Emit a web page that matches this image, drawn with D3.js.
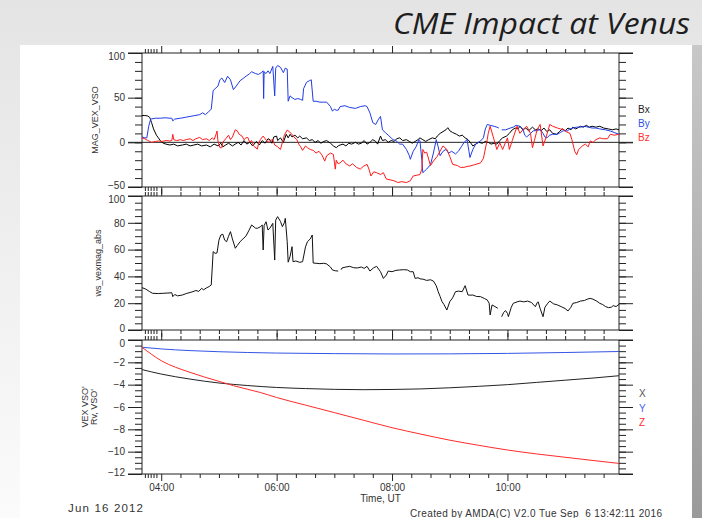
<!DOCTYPE html>
<html><head><meta charset="utf-8">
<script src="https://cdn.jsdelivr.net/npm/d3@7"></script>
<style>body{margin:0;background:#fff}svg{display:block}</style>
</head><body>
<svg id="c" width="702" height="518"></svg>
<script>
// ---------- DATA (time in minutes of day UT, Jun 16 2012) ----------
const timeDomain = [220, 716];            // 03:40 .. 11:56
const timeMajorTicks = [240, 360, 480, 600];
const timeMinorTicks = [260,280,300,320,340,380,400,420,440,460,500,520,540,560,580,620,640,660,680,700];
const timeSmallTicks = [223,226,229,232,235];
const timeTitle = "Time, UT";

const bLegend = ["Bx", "By", "Bz"];
const posLegend = ["X", "Y", "Z"];

const Bx = [[220,30],[223,30],[226,29.5],[228,28],[230,22],[232,15],[235,8],[237,5],[239,2],[242,-1],[245,-2],[249,-3],[253,-2],[257,-4],[262,-3],[266,-2],[270,-4],[274,-3],[278,-2],[282,-4],[287,-3],[291,-5],[295,-2],[299,-4],[302,-1],[304,-5],[307,-3],[310,-1],[314,-4],[317,-2],[320,0],[323,-3],[326,2],[329,-2],[332,0],[335,-4],[339,1],[342,-3],[345,2],[348,-1],[351,4],[353,3],[355,-1],[357,6],[360,7],[361,2],[364,5],[367,0],[370,9],[372,5],[374,9],[376,6],[379,8],[382,5],[384,7],[387,4],[391,5],[394,2],[397,3],[400,0],[403,2],[406,-1],[409,1],[412,2],[416,-1],[419,-4],[422,-6],[424,-4],[426,-3],[429,-2],[432,-4],[435,-1],[438,-2],[442,0],[445,-2],[448,-1],[451,2],[454,-2],[457,0],[460,3],[463,1],[465,-2],[468,7],[470,2],[473,3],[476,0],[479,2],[482,1],[485,4],[488,5],[491,2],[495,3],[498,1],[501,-1],[504,1],[507,3],[509,5],[512,3],[515,1],[518,3],[522,5],[525,4],[527,7],[530,10],[533,12],[536,14],[538,16.4],[540,13],[543,11],[547,9],[550,7],[553,8],[556,5],[559,3],[562,-1],[564,-4],[567,-2],[570,0],[574,-1],[577,1],[580,0],[583,-2],[586,-1],[589,-2],[592,2],[595,5],[599,7],[602,10],[605,14],[608,16],[611,15],[613,18],[616,14],[619,16],[622,13],[626,17],[629,14],[632,15],[635,13],[638,16],[641,12],[644,14],[647,10],[651,9],[654,12],[657,15],[660,13],[663,16],[666,14],[668,17],[671,15],[676,18],[679,17],[682,19],[685,17],[688,18],[692,17],[696,18],[700,16],[705,15],[709,14],[713,15],[716,14]];

const By = [[220,6],[223,5],[225,5],[227,18],[229,26],[234,27],[239,27],[244,27.5],[249,27],[251,27],[252,24],[254,26],[260,27],[265,28],[270,29],[275,30],[280,31],[283,33],[286,31],[289,34],[292,37],[294,58],[296,60],[299,63],[301,70],[303,72],[306,67],[309,74],[312,70],[315,59],[318,63],[322,69],[327,73],[332,77],[334,79],[338,77],[341,76],[344,78],[346,80],[346.5,49],[347,79],[349,77],[351,80],[353,77],[356,85],[358,52],[359,83],[361,86],[364,84],[367,78],[369,83],[371,82],[372,46],[374,52],[376,50],[379,48],[382,49],[385,48],[387,47],[388,60],[391,67],[394,69],[396,70],[398,46],[401,46],[405,45],[409,45],[412,45],[416,40],[418,35],[420,37],[422,36],[424,36],[426,40],[431,41],[436,39],[442,38],[447,40],[452,41],[454,40],[457,33],[460,22],[463,20],[466,26],[468,29],[470,14],[473,11],[476,8],[479,5],[481,3],[484,2],[488,-2],[491,-2],[495,-8],[498,-15],[499,-19],[502,-10],[505,-5],[508,3],[509,2],[511,-20],[512,-34],[514,-32],[516,-30],[520,-25],[523,-12],[526,3],[528,-5],[530,-15],[533,-10],[536,-8],[539,-12],[542,-10],[546,-13],[549,-10],[552,-5],[555,0],[558,3],[560,-10],[561,-17],[564,-8],[567,-2],[572,1.5],[575,5],[577,15],[579,20],[582,19],[586,18],[589,17],[591,16],[592,null],[594,14],[598,14],[603,16],[606,17],[609,19],[613,18],[616,15],[618,8],[620,6],[624,10],[627,13],[631,13],[634,14.6],[637,10],[639,6],[641,5],[644,8],[647,9],[652,9],[655,11],[658,13],[662,12.6],[665,15],[668,16],[672,17],[676,17],[680,18],[684,17],[688,16],[692,16],[696,15],[702,14],[707,12.6],[711,11],[716,9]];

const Bz = [[220,5],[223,4],[226,2],[228,1],[230,0],[234,1],[237,1.5],[241,1],[245,2],[249,1.5],[251,2],[252,9],[253,3],[256,2],[260,3],[263,2],[266,3],[270,4],[273,2],[276,4],[280,5.5],[283,3],[287,4],[290,2],[293,5],[295,3],[297,9],[298,12.6],[299,1.5],[301,-6],[303,-6],[304,0],[307,4],[310,8],[312,3],[314,6],[317,14],[319,13],[321,9],[324,7],[326,3],[328,5],[330,5.5],[332,0],[334,2],[336,-4],[340,-7.6],[341,-2],[343,3],[346,7],[348,4],[351,0],[353,2],[356,3],[358,-3],[361,-5],[364,-8],[366,0],[368,8],[371,13.8],[373,12],[376,9],[378,6],[381,3],[383,-2],[385,-5],[387,-9],[390,-4],[392,-6],[395,-8],[398,-9],[401,-12],[404,-10],[407,-14],[410,-21],[412,-15],[416,-12],[419,-13.6],[421,-30],[422,-20],[424,-24],[426,-23],[429,-20],[432,-24],[436,-26.5],[439,-24],[443,-28],[447,-30],[450,-27],[454,-24.6],[456,-30],[458,-37.7],[461,-33],[464,-34],[468,-36],[471,-34],[474,-41],[478,-42],[482,-43],[486,-45],[490,-44],[495,-45],[499,-43],[502,-37.7],[505,-37],[509,-36],[511,-30],[512,-8],[514,-12],[516,-11],[520,-26],[523,-21],[527,-15.7],[530,-9.7],[533,-4],[537,-8],[540,-15.7],[543,-24.6],[548,-26],[551,-28],[555,-28],[558,-27],[561,-26.5],[566,-25],[572,-23],[575,-18],[579,3],[580,10],[582,18],[585,7],[589,-8],[592,-0.5],[595,-8],[600,5],[602,-8],[605,2],[610,18],[613,10],[616,14],[620,18],[624,10],[626,-6],[628,2],[631,14.6],[634,20],[637,-4],[640,5],[644,20],[647,18],[652,16],[655,15],[658,14.6],[661,12],[665,10],[667,3],[670,-10],[672,-14],[674,-8],[678,-4],[681,-2],[684,-5],[686,1.5],[689,0],[692,3],[696,5],[699,4],[704,4],[707,9],[711,8],[716,9]];

const Babs = [[220,31.6],[224,30.5],[228,28.6],[231,27.4],[237,27.2],[242,27.4],[247,27.6],[251,27.8],[252,24.9],[254,26.5],[257,25.5],[262,26.1],[266,27.2],[270,28],[273,28.6],[276,29.5],[279,28.8],[282,31.1],[284,30],[287,31.4],[290,32.5],[292,33.6],[294,58.5],[296,57.2],[298,57.5],[300,67],[302,70.9],[304,71.5],[306,67],[308,65.9],[310,70],[312,73.4],[314,68],[317,61],[319,63],[322,65.9],[325,68],[328,70],[331,74],[334,78.4],[338,76],[340,75.9],[343,77],[345,78.4],[346,59.7],[347,78],[349,80.8],[351,74.6],[353,76],[356,79.6],[358,52.2],[359,82],[361,84.6],[364,81],[366,77.1],[368,80],[369,83.3],[371,65.9],[372,50.6],[374,55],[376,62.2],[377,51],[380,51.5],[384,50.5],[387,51],[390,62],[392,65.9],[395,68],[397,70.9],[398,50],[401,49.8],[405,49.5],[409,49.8],[412,49.3],[416,47],[418,44.8],[421,44.2],[424,44],[425,null],[427,45],[428,46.3],[432,47],[436,47.5],[440,46.5],[444,46.3],[448,47],[451,46],[454,47.5],[457,44],[461,46.5],[464,47.5],[468,43.5],[471,38.5],[474,41],[476,44],[480,43.5],[484,44.5],[488,44.8],[492,45],[496,44.8],[499,43.5],[502,43.5],[504,38.5],[507,39],[510,38],[512,38],[516,37],[520,37.5],[523,36.5],[526,33],[528,28.6],[530,25],[532,21.1],[534,19],[537,14.9],[540,21.1],[543,24],[546,28.6],[549,29],[553,28.6],[556,33.1],[559,26.1],[562,26],[564,26.1],[568,25],[572,24.9],[576,23.5],[579,22.4],[581,20],[582,11.2],[584,18.7],[587,17.5],[590,16.2],[592,null],[594,9.9],[596,13],[598,14.5],[600,12.4],[601,10],[604,17],[606,19.9],[610,21],[613,21.6],[617,21],[621,21.6],[625,20.5],[629,17.4],[631,20.5],[632,21],[634,16],[637,9.9],[639,17],[642,20],[644,21.6],[648,19.5],[652,18.7],[656,17.4],[660,16],[663,14.2],[666,17],[668,19.9],[672,20.5],[676,21.6],[680,22],[683,23],[686,23.6],[689,23],[693,21.5],[696,19.9],[699,19],[702,17.5],[705,16.7],[708,17],[710,18.2],[713,17.5],[716,19.2]];

const posX = [[220,-2.65],[240,-3.05],[270,-3.5],[300,-3.85],[330,-4.08],[360,-4.25],[390,-4.35],[420,-4.42],[450,-4.45],[480,-4.43],[510,-4.38],[540,-4.28],[570,-4.15],[600,-4.0],[630,-3.8],[660,-3.6],[690,-3.4],[716,-3.2]];
const posY = [[220,-0.65],[240,-0.8],[270,-0.95],[300,-1.05],[330,-1.12],[360,-1.17],[420,-1.22],[480,-1.25],[540,-1.24],[600,-1.2],[660,-1.12],[716,-1.03]];
const posZ = [[220,-0.65],[240,-1.85],[270,-2.9],[300,-3.7],[315,-4.09],[330,-4.42],[343,-4.7],[360,-5.15],[390,-5.83],[420,-6.5],[450,-7.18],[480,-7.85],[510,-8.43],[540,-8.97],[570,-9.43],[600,-9.85],[630,-10.2],[660,-10.5],[690,-10.8],[716,-11.05]];

const panelTitles = [["MAG_VEX_VSO"], ["ws_vexmag_abs"], ["VEX VSO'", "Rv, VSO'"]];
const dateLabel = "Jun 16 2012";
const creditLabel = "Created by AMDA(C) V2.0 Tue Sep  6 13:42:11 2016";
const chartTitle = "CME Impact at Venus";

// ---------- DRAWING ----------
const svg = d3.select("#c");
const defs = svg.append("defs");
const g1 = defs.append("linearGradient").attr("id","bgTop").attr("x1",0).attr("y1",0).attr("x2",0).attr("y2",1);
g1.append("stop").attr("offset","0%").attr("stop-color","#e4e4e4");
g1.append("stop").attr("offset","100%").attr("stop-color","#fbfbfb");
const g2 = defs.append("linearGradient").attr("id","bgRight").attr("x1",0).attr("y1",0).attr("x2",0).attr("y2",1);
g2.append("stop").attr("offset","0%").attr("stop-color","#c8c8c8");
g2.append("stop").attr("offset","100%").attr("stop-color","#9a9a9a");

svg.append("rect").attr("width",702).attr("height",518).attr("fill","url(#bgTop)");
svg.append("rect").attr("x",20).attr("y",45).attr("width",672).attr("height",473).attr("fill","#fff");
svg.append("rect").attr("x",692).attr("y",45).attr("width",10).attr("height",473).attr("fill","url(#bgRight)");

svg.append("text").attr("x",690).attr("y",34).attr("text-anchor","end")
  .attr("font-family","'Open Sans', 'Noto Sans', sans-serif").attr("font-style","italic")
  .attr("font-size",29).attr("fill","#1e1e1e")
  .attr("textLength",297).attr("lengthAdjust","spacingAndGlyphs").text(chartTitle);

const FONT = "'Liberation Sans', Arial, sans-serif";
const L = 142, R = 619;
const x = d3.scaleLinear().domain(timeDomain).range([L, R]);

const panels = [
  {top:53, bottom:187, domain:[-50,100], major:d3.range(-50,101,50), minor:d3.range(-50,101,10), zero:true},
  {top:196, bottom:330, domain:[0,100], major:d3.range(0,101,20), minor:d3.range(0,101,5)},
  {top:340, bottom:474, domain:[-12,0], major:d3.range(-12,0.01,2), minor:d3.range(-12,0.01,0.5)}
];

const axisStyle = sel => {
  sel.select(".domain").remove();
  sel.selectAll("line").attr("stroke","#222").attr("stroke-width",1);
  sel.selectAll("text").attr("font-family",FONT).attr("font-size",10).attr("fill","#333");
};
const fmtTime = m => String(Math.floor(m/60)).padStart(2,"0")+":"+String(m%60).padStart(2,"0");

panels.forEach((p,i) => {
  const y = d3.scaleLinear().domain(p.domain).range([p.bottom, p.top]);
  p.y = y;
  const g = svg.append("g");
  // y axes left
  g.append("g").attr("transform",`translate(${L},0)`)
    .call(d3.axisLeft(y).tickValues(p.minor).tickSize(7).tickFormat("")).call(axisStyle);
  const lab = g.append("g").attr("transform",`translate(${L},0)`)
    .call(d3.axisLeft(y).tickValues(p.major).tickSize(14).tickPadding(3).tickFormat(d=>d<0?"\u2212"+(-d):String(d))).call(axisStyle);
  lab.selectAll("text").attr("transform", d => d===p.domain[1] ? "translate(0,3)" : d===p.domain[0] ? "translate(0,-2)" : null);
  // y axes right
  g.append("g").attr("transform",`translate(${R},0)`)
    .call(d3.axisRight(y).tickValues(p.minor).tickSize(7).tickFormat("")).call(axisStyle);
  g.append("g").attr("transform",`translate(${R},0)`)
    .call(d3.axisRight(y).tickValues(p.major).tickSize(14).tickFormat("")).call(axisStyle);
  // x axes top / bottom (outward)
  [[timeMinorTicks,4],[timeMajorTicks,7],[timeSmallTicks,4]].forEach(([vals,sz]) => {
    g.append("g").attr("transform",`translate(0,${p.top})`)
      .call(d3.axisTop(x).tickValues(vals).tickSize(sz).tickFormat("")).call(axisStyle);
    g.append("g").attr("transform",`translate(0,${p.bottom})`)
      .call(d3.axisBottom(x).tickValues(vals).tickSize(sz).tickFormat("")).call(axisStyle);
  });
  // frame
  g.append("line").attr("x1",L-14).attr("x2",R+14).attr("y1",p.top).attr("y2",p.top).attr("stroke","#222");
  g.append("line").attr("x1",L-14).attr("x2",R+14).attr("y1",p.bottom).attr("y2",p.bottom).attr("stroke","#222");
  g.append("line").attr("x1",L).attr("x2",L).attr("y1",p.top).attr("y2",p.bottom).attr("stroke","#222");
  g.append("line").attr("x1",R).attr("x2",R).attr("y1",p.top).attr("y2",p.bottom).attr("stroke","#222");
  if (p.zero) g.append("line").attr("x1",L-14).attr("x2",R+14).attr("y1",y(0)).attr("y2",y(0)).attr("stroke","#222");
  // title
  const mid = (p.top+p.bottom)/2;
  const lines = panelTitles[i];
  const xs = lines.length===1 ? [i===0?95:98] : [85,93.5];
  lines.forEach((t,k) => {
    g.append("text").attr("transform",`translate(${xs[k]},${mid}) rotate(-90)`)
      .attr("text-anchor","middle").attr("dy","0.35em")
      .attr("font-family",FONT).attr("font-size",9).attr("fill","#333").text(t);
  });
});

// x labels on bottom panel
svg.append("g").attr("transform",`translate(0,${panels[2].bottom})`)
  .call(d3.axisBottom(x).tickValues(timeMajorTicks).tickSize(0).tickPadding(10).tickFormat(fmtTime)).call(axisStyle);
svg.append("text").attr("x",(L+R)/2).attr("y",502).attr("text-anchor","middle")
  .attr("font-family",FONT).attr("font-size",10).attr("fill","#333").text(timeTitle);

// series
const mkLine = y => d3.line().defined(d=>d[1]!==null).x(d=>x(d[0])).y(d=>y(d[1]));
const clip = (id,p) => { defs.append("clipPath").attr("id",id).append("rect").attr("x",L).attr("y",p.top).attr("width",R-L).attr("height",p.bottom-p.top); return `url(#${id})`; };
const c0 = clip("cp0",panels[0]), c1 = clip("cp1",panels[1]), c2 = clip("cp2",panels[2]);
const bColors = ["#000000","#1f3ce6","#ff1a1a"];
[Bx,By,Bz].forEach((s,k) => svg.append("path").attr("clip-path",c0).attr("d",mkLine(panels[0].y)(s))
  .attr("fill","none").attr("stroke",bColors[k]).attr("stroke-width",1).attr("stroke-linejoin","round"));
svg.append("path").attr("clip-path",c1).attr("d",mkLine(panels[1].y)(Babs))
  .attr("fill","none").attr("stroke","#111").attr("stroke-width",1);
const pColors = ["#222222","#3355e6","#ff2a2a"];
const smooth = y => d3.line().x(d=>x(d[0])).y(d=>y(d[1])).curve(d3.curveMonotoneX);
[posX,posY,posZ].forEach((s,k) => svg.append("path").attr("clip-path",c2).attr("d",smooth(panels[2].y)(s))
  .attr("fill","none").attr("stroke",pColors[k]).attr("stroke-width",1));

// legends
const bLegY = [109,123,137.5], pLegY = [393.5,408.8,422.8];
const bLegC = ["#222","#2f4fe6","#ff3030"], pLegC = ["#555","#4466ee","#ff3030"];
bLegend.forEach((t,k)=>svg.append("text").attr("x",638).attr("y",bLegY[k]).attr("dy","0.35em")
  .attr("font-family",FONT).attr("font-size",10).attr("fill",bLegC[k]).text(t));
posLegend.forEach((t,k)=>svg.append("text").attr("x",639).attr("y",pLegY[k]).attr("dy","0.35em")
  .attr("font-family",FONT).attr("font-size",10).attr("fill",pLegC[k]).text(t));

// footer
svg.append("text").attr("x",68).attr("y",511.5).attr("font-family",FONT).attr("font-size",11.5)
  .attr("fill","#333").attr("textLength",75).attr("lengthAdjust","spacing").text(dateLabel);
svg.append("text").attr("x",410).attr("y",517).attr("font-family",FONT).attr("font-size",10)
  .attr("fill","#333").attr("textLength",252).attr("lengthAdjust","spacing").attr("xml:space","preserve").text(creditLabel);
</script>
</body></html>
